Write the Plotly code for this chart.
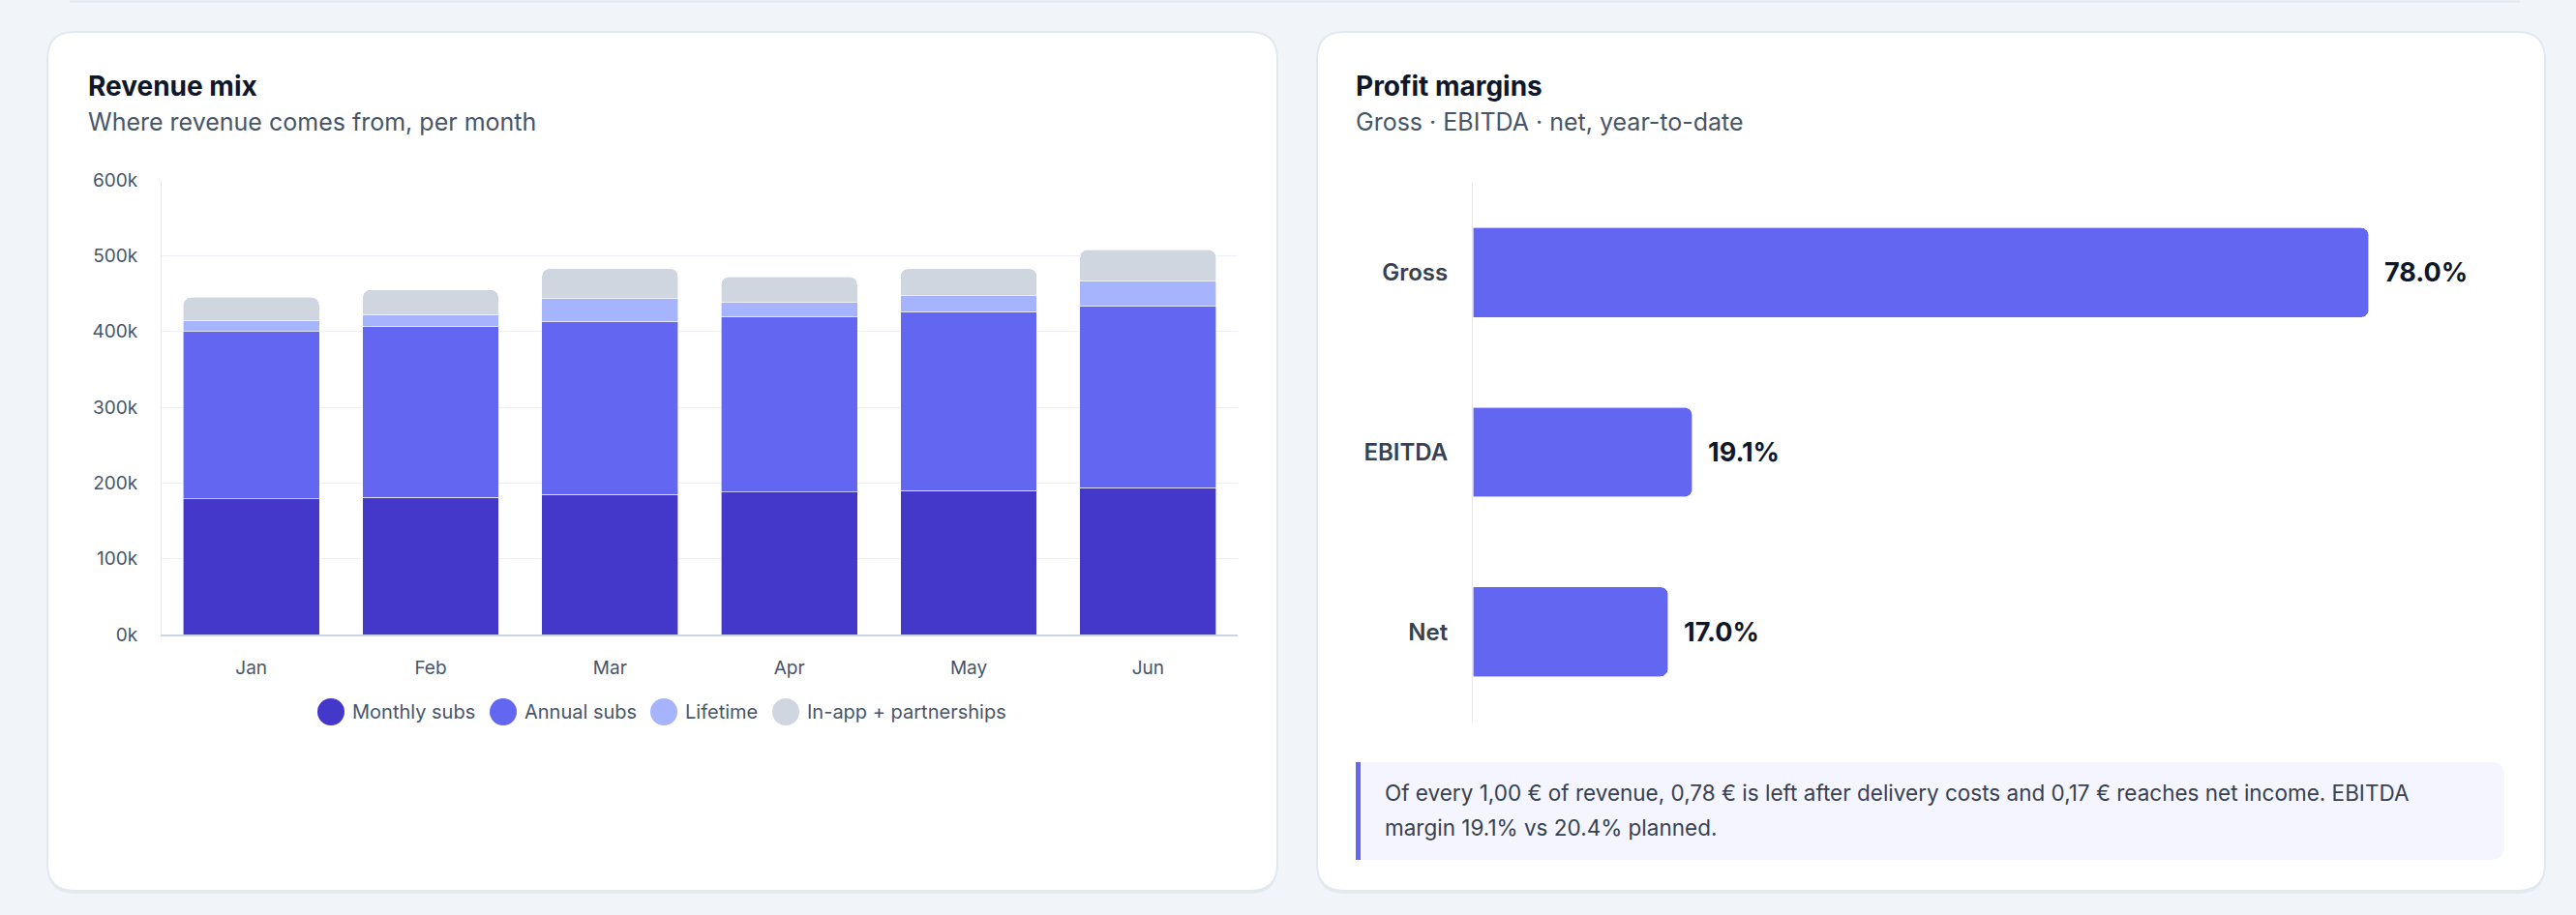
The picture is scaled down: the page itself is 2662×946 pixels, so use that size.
import plotly.graph_objects as go

# page size
W, H = 2662, 946

# revenue mix data (thousands of euros)
months = ['Jan', 'Feb', 'Mar', 'Apr', 'May', 'Jun']
monthly_subs = [179, 181, 185, 188, 190, 194]
annual_subs = [221, 226, 228, 232, 236, 239]
lifetime = [14, 15, 30, 18, 21, 33]
inapp_partnerships = [31, 33, 40, 34, 36, 42]
series_names = ['Monthly subs', 'Annual subs', 'Lifetime', 'In-app + partnerships']
series_colors = ['#4338ca', '#6366f1', '#a5b4fc', '#cfd6e0']

# profit margins (%)
margin_names = ['Gross', 'EBITDA', 'Net']
margin_values = [78.0, 19.1, 17.0]

note_lines = [
    'Of every 1,00 € of revenue, 0,78 € is left after delivery costs and 0,17 € reaches net income. EBITDA',
    'margin 19.1% vs 20.4% planned.',
]

FONT = 'Inter'
PAGE_BG = '#f1f5f9'
BORDER = '#e2e8f0'


def px(x):
    return x / W


def py(y):
    return 1 - y / H


def roundedRect(x0, y0, x1, y1, r, rl=True):
    # path in paper units, built from pixel coords (y downwards)
    r0 = r if rl else 0
    pts = [
        f'M {px(x0 + r0)},{py(y0)}',
        f'L {px(x1 - r)},{py(y0)}',
        f'Q {px(x1)},{py(y0)} {px(x1)},{py(y0 + r)}',
        f'L {px(x1)},{py(y1 - r)}',
        f'Q {px(x1)},{py(y1)} {px(x1 - r)},{py(y1)}',
        f'L {px(x0 + r0)},{py(y1)}',
    ]
    if rl:
        pts += [f'Q {px(x0)},{py(y1)} {px(x0)},{py(y1 - r0)}',
                f'L {px(x0)},{py(y0 + r0)}',
                f'Q {px(x0)},{py(y0)} {px(x0 + r0)},{py(y0)}']
    else:
        pts += [f'L {px(x0)},{py(y0)}']
    return ' '.join(pts) + ' Z'


fig = go.Figure()

stack = [monthly_subs, annual_subs, lifetime, inapp_partnerships]
for name, vals, col in zip(series_names, stack, series_colors):
    fig.add_trace(go.Bar(x=months, y=vals, name=name, marker_color=col,
                         marker_line_color='white', marker_line_width=0.6,
                         width=0.76, xaxis='x', yaxis='y', showlegend=False,
                         hoverinfo='skip'))

fig.add_trace(go.Bar(x=margin_values, y=margin_names, orientation='h',
                     marker_color='#6366f1', marker_line_color='white',
                     marker_line_width=0.6, width=0.5, xaxis='x2', yaxis='y2',
                     showlegend=False, hoverinfo='skip'))

shapes = []
# edge of the card above, cut off by the window
shapes.append(dict(type='line', xref='paper', yref='paper', x0=px(72), x1=px(2604),
                   y0=py(1.5), y1=py(1.5), line=dict(color=BORDER, width=2), layer='below'))
for cx0, cx1 in [(49, 1320), (1361, 2630)]:
    shapes.append(dict(type='path', xref='paper', yref='paper', layer='below',
                       path=roundedRect(cx0, 36, cx1, 924, 28),
                       fillcolor='#e6eaf0', line=dict(width=0)))
    shapes.append(dict(type='path', xref='paper', yref='paper', layer='below',
                       path=roundedRect(cx0, 33, cx1, 921, 28),
                       fillcolor='white', line=dict(color=BORDER, width=2)))

# note box under the margins chart
shapes.append(dict(type='path', xref='paper', yref='paper', layer='below',
                   path=roundedRect(1401, 788, 2588, 889, 14, rl=False),
                   fillcolor='#f4f5fe', line=dict(width=0)))
shapes.append(dict(type='rect', xref='paper', yref='paper', layer='below',
                   x0=px(1401), x1=px(1406), y0=py(788), y1=py(889),
                   fillcolor='#6366f1', line=dict(width=0)))

annotations = []


def addText(x, y, text, size, color, weight=400, xref='paper', yref='paper', **kw):
    annotations.append(dict(x=x, y=y, xref=xref, yref=yref, text=text, showarrow=False,
                            xanchor=kw.pop('xanchor', 'left'), yanchor=kw.pop('yanchor', 'middle'),
                            font=dict(family=FONT, size=size, color=color, weight=weight), **kw))


# card headers
addText(px(89), py(89), 'Revenue mix', 28, '#0f172a', 700)
addText(px(89), py(126), 'Where revenue comes from, per month', 25, '#475569')
addText(px(1399), py(89), 'Profit margins', 28, '#0f172a', 700)
addText(px(1399), py(126), 'Gross · EBITDA · net, year-to-date', 25, '#475569')

# custom legend with round markers
legend_x = [328, 506, 672, 798]
for name, col, lx in zip(series_names, series_colors, legend_x):
    shapes.append(dict(type='circle', xref='paper', yref='paper', layer='above',
                       x0=px(lx), x1=px(lx + 28), y0=py(722), y1=py(750),
                       fillcolor=col, line=dict(width=0)))
    addText(px(lx + 34), py(736), name, 20, '#475569')

# value labels next to the margin bars
for name, val in zip(margin_names, margin_values):
    addText(val, name, f'{val:.1f}%', 27, '#0f172a', 700, xref='x2', yref='y2', xshift=14)

# note text
addText(px(1429), py(819), note_lines[0], 22.5, '#374151')
addText(px(1429), py(855), note_lines[1], 22.5, '#374151')

fig.update_layout(
    width=W, height=H,
    margin=dict(l=0, r=0, t=0, b=0, pad=0, autoexpand=False),
    paper_bgcolor=PAGE_BG,
    plot_bgcolor='rgba(0,0,0,0)',
    font=dict(family=FONT, color='#475569'),
    barmode='stack',
    barcornerradius=8,
    showlegend=False,
    shapes=shapes,
    annotations=annotations,
    xaxis=dict(domain=[px(167), px(1279)], anchor='y', type='category',
               showline=True, linecolor='#cbd5e1', linewidth=2, showgrid=False,
               zeroline=False, ticks='', ticklabelstandoff=16, automargin=False,
               tickfont=dict(size=19, color='#475569')),
    yaxis=dict(domain=[py(656), py(186)], anchor='x', range=[0, 600], dtick=100,
               ticksuffix='k', showgrid=True, gridcolor='#edf1f6', gridwidth=1,
               showline=True, linecolor='#e5e7eb', linewidth=1, zeroline=False,
               ticks='', ticklabelstandoff=20, automargin=False,
               tickfont=dict(size=19, color='#475569')),
    xaxis2=dict(domain=[px(1522), px(2582)], anchor='y2', range=[0, 89.3],
                visible=False, automargin=False),
    yaxis2=dict(domain=[py(746), py(189)], anchor='x2', type='category',
                autorange='reversed', showline=True, linecolor='#e2e8f0', linewidth=1,
                showgrid=False, zeroline=False, ticks='', ticklabelstandoff=20,
                automargin=False, tickfont=dict(size=24, color='#374151', weight=600)),
)

fig.write_html('out.html', config={'displayModeBar': False},
               post_script="document.body.style.margin='0';document.body.style.overflow='hidden';")
